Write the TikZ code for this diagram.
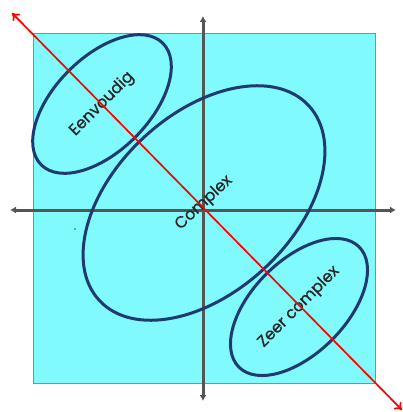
\documentclass[tikz,border=0pt]{standalone}
\usepackage{fontspec}
\setmainfont{Poppins}
\newfontfamily\labelfont{Poppins}[FakeBold=0.8]
\usepackage{tikz}
\usetikzlibrary{arrows.meta,shapes.geometric}

\definecolor{vlak}{RGB}{128,250,252}
\definecolor{rand}{RGB}{31,58,110}
\definecolor{as}{RGB}{85,85,85}

\tikzset{
  gebied/.style={ellipse,draw=rand,line width=3pt,inner sep=0pt,
    text=black!85,font=\labelfont\fontsize{16}{18}\selectfont},
  aslijn/.style={as,line width=3pt,{Latex[length=6pt,width=7pt]}-{Latex[length=6pt,width=7pt]}},
  diagonaal/.style={red,line width=1.7pt,{To[length=7pt,width=10pt]}-{To[length=7pt,width=10pt]}}
}

\begin{document}
\begin{tikzpicture}[x=1pt,y=-1pt]
\useasboundingbox (0,0) rectangle (403,412);

% Achtergrond
\filldraw[fill=vlak,draw=black!45,line width=1pt] (33,34) rectangle (375,383);

% Assen
\coordinate (links) at (10,210);
\coordinate (rechts) at (396,210);
\coordinate (boven) at (203,16);
\coordinate (onder) at (203,401);
\draw[aslijn] (links) -- (rechts);
\draw[aslijn] (onder) -- (boven);

% Gebieden
\node[gebied,minimum width=286pt,minimum height=178pt,rotate=43] (complex) at (204,203) {Complex};
\node[gebied,minimum width=172pt,minimum height=94pt,rotate=45] (eenvoudig) at (102,104) {Eenvoudig};
\node[gebied,minimum width=170pt,minimum height=93pt,rotate=45] (zeer) at (299,307) {Zeer complex};

% Diagonaal
\coordinate (linksboven) at (12,13);
\coordinate (rechtsonder) at (402,410);
\draw[diagonaal] (linksboven) -- (rechtsonder);

\fill[black!70] (75,229) circle (0.8pt);

\end{tikzpicture}
\end{document}
